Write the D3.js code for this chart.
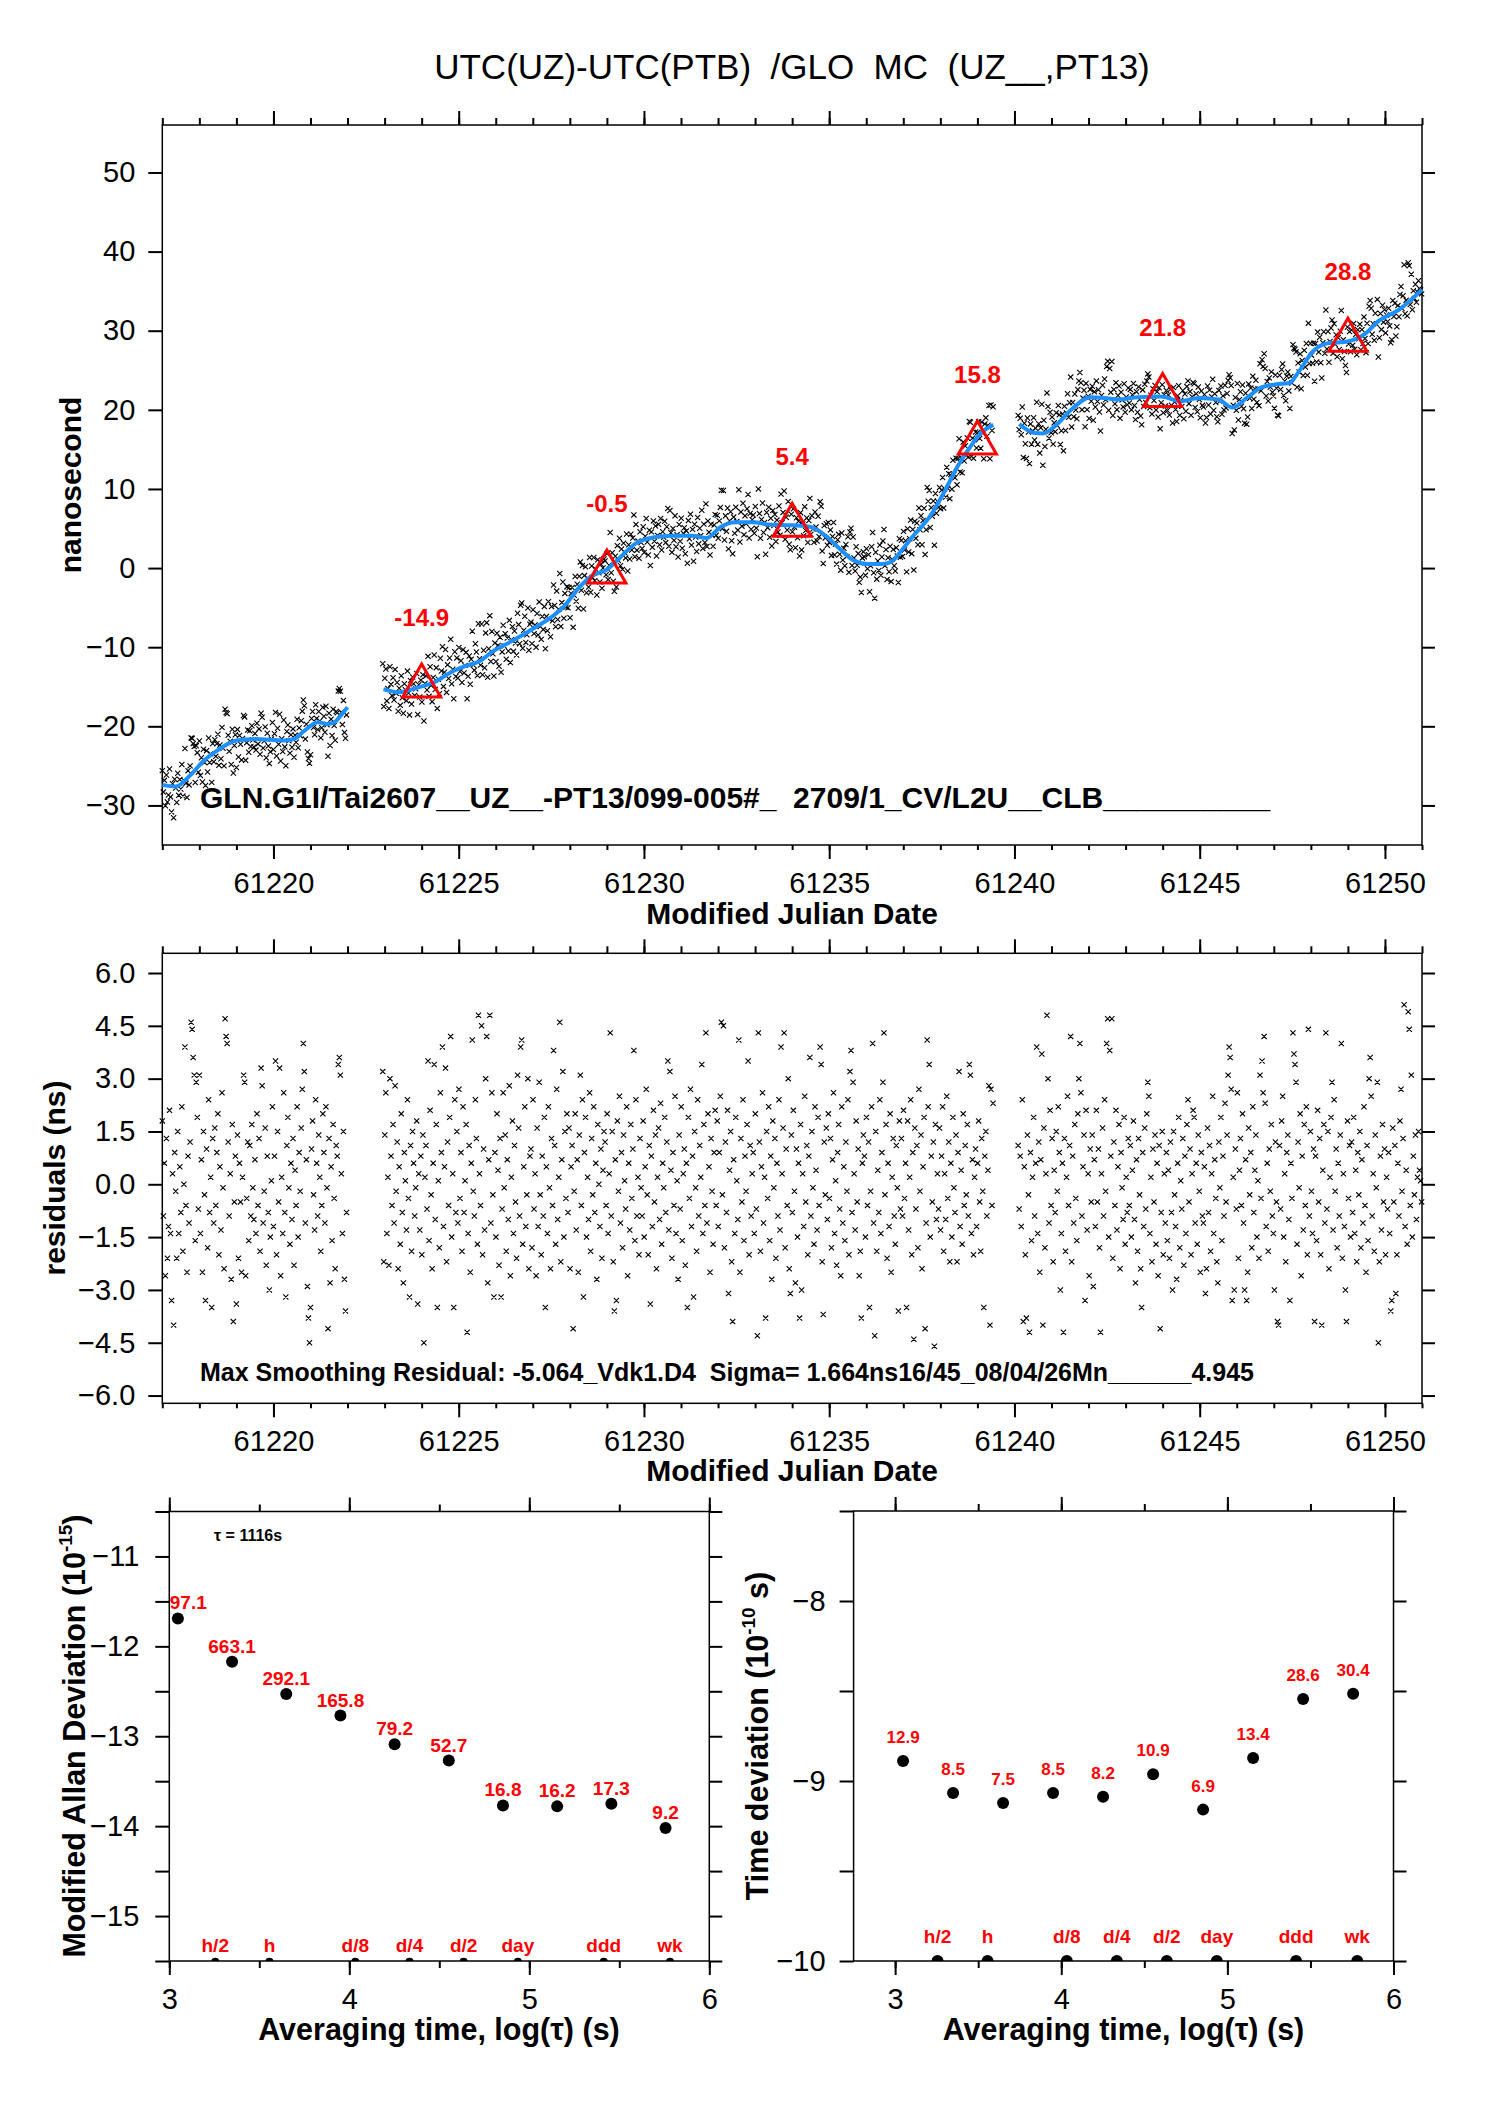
<!DOCTYPE html>
<html>
<head>
<meta charset="utf-8">
<script src="https://cdn.jsdelivr.net/npm/d3@7"></script>
<style>
  body { margin: 0; background: #fff; }
  svg { display: block; font-family: "Liberation Sans", Arial, Helvetica, sans-serif; }
  text { white-space: pre; }
</style>
</head>
<body>
<svg id="chart" width="1488" height="2105"></svg>
<script>
// ---- residuals (tenths of ns), one row per day, sampled every 1/36 day ----
const segStart = [61217.0, 61222.95, 61240.1];
const dayStep = 1 / 36;

const residA = [
  "18 -9 6 -26 13 -21 -12 21 -14 -33 3 -40 9 -2 -21 15 -14 5 -8 22 -19 0 39 -6 -25 8 -11 12 46 44 36 31 -16 29 19 -7",
  "31 -14 7 -25 15 -3 -33 10 -18 24 -8 2 -35 13 -11 16 -6 9 20 -20 5 -13 26 -1 -24 47 42 40 12 -9 3 -27 17 -39 -5 8",
  "-34 14 -21 6 -5 -25 2 31 29 -26 -4 12 -16 11 -9 17 -1 -10 7 -14 20 -6 13 -19 33 28 -11 -2 16 -23 8 -8 -30 -15 1 22",
  "-12 8 35 -20 15 -5 33 -26 2 -14 26 -8 -32 11 19 -1 -17 6 -10 13 -23 4 -6 22 -15 9 -2 16 27 40 32 -11 7 -29 -38 -45",
  "-35 10 18 -3 -13 24 6 -9 14 2 -19 -6 20 9 -11 22 -1 -41 13 -28 5 -16 17 -4 -24 11 8 34 36 31 3 -14 15 -27 -36 -8"
];
const residB = [
  "32 -22 14 26 -14 2 -23 30 8 -6 17 -11 28 -2 12 -24 5 -17 20 -8 -28 9 1 -13 24 -4 -32 11 -19 15 6 -9 -1 18 -34 3",
  "-13 8 -20 14 -45 2 11 -7 35 -16 21 -3 -24 6 34 -10 17 -35 1 -18 26 9 39 -12 5 33 -22 12 -6 19 42 -15 3 -35 24 -8",
  "15 -11 27 -4 9 -19 22 -8 1 17 -42 -14 11 -25 6 41 -2 -9 24 13 -17 48 3 -6 45 -20 10 -13 30 42 -28 7 48 -11 26 -3",
  "-32 9 -15 20 4 -23 13 -32 -7 26 -1 14 -19 7 -10 28 -26 2 18 -14 11 -5 -21 31 16 -9 39 41 -17 5 22 -12 -3 30 -24 8",
  "10 -18 24 -7 3 -26 16 -12 29 -3 -20 8 -9 19 -35 5 -14 22 -1 -24 13 -6 38 11 -17 27 -10 2 46 -22 7 32 -15 15 -4 20",
  "-8 16 -24 5 11 -41 -2 20 -13 7 -25 14 31 -6 24 -32 9 19 -15 2 -10 26 -19 13 -3 22 -8 6 -27 17 0 -12 10 -21 4 15",
  "12 -6 20 -14 3 43 -9 15 -22 -36 7 -33 18 -2 25 -11 9 -18 14 1 -7 22 -26 6 -13 17 -4 10 38 -16 24 -9 2 -20 13 -1",
  "-9 18 -15 5 27 -3 -20 11 -34 8 -12 21 -5 14 -24 2 16 -10 23 -17 6 -1 19 -8 12 35 -13 32 4 -21 9 -6 25 -14 1 -27",
  "14 -7 22 -16 3 10 -23 6 -35 19 -4 27 -12 8 -32 15 -1 -19 24 -9 11 2 34 -14 17 -6 43 -11 20 5 -25 13 -2 -17 9 21",
  "-6 18 -12 9 25 46 -3 45 -18 12 -8 21 -31 4 15 -22 -39 7 -14 19 1 -10 41 -25 13 -5 24 -16 8 -2 17 35 -20 11 -9 3",
  "9 -14 20 -7 -43 43 12 -19 5 26 -11 2 -38 15 -4 22 -16 8 -27 18 -1 13 -21 6 -9 24 -13 39 3 16 43 -18 10 -6 30 -24",
  "-31 14 -8 21 -2 -28 10 -15 6 -38 17 -30 3 -12 25 -5 11 -20 8 36 -9 15 -1 -17 22 4 -13 19 -6 39 34 -22 -37 12 -3 16",
  "-10 20 -4 13 -18 7 26 -14 1 -23 9 17 -7 -26 22 -11 5 -16 12 -2 24 -20 32 38 -8 29 3 -13 18 -5 10 -26 -19 -38 6 14",
  "8 -15 19 -6 12 -35 -2 22 40 -11 -43 15 -19 4 -8 24 -14 9 29 43 -3 17 -21 6 -12 20 -25 2 13 -9 -17 11 -1 -36 18 -7",
  "13 -9 21 -4 6 -35 18 -13 2 24 -20 9 -44 16 -7 11 -18 27 -2 14 -24 5 19 -41 -11 41 22 34 -15 8 -5 12 -46 17 -10 3",
  "-7 16 -13 8 22 -19 3 -10 25 -4 12 -22 6 -15 19 -1 -8 14 -22 9 32 -12 4 -17 20 -6 11 -3 17 -9 34 31 -14 7 -20 2",
  "10 -12 6 18 -5 -19 13 -2 -35 8 15 -9 4 28 -40 27 -6 23"
];
const residC = [
  "11 -7 8 -12 24 -39 5 -20 -38 14 -3 -42 9 -16 2 19 -9 6 39 -14 12 -25 7 37 -40 16 -18 3 48 30 -11 21 -6 13 -22 4",
  "-8 15 -2 22 9 -30 -14 6 -42 13 -19 2 25 -6 11 42 -22 8 -11 17 -4 -16 20 30 40 26 -9 5 14 -33 21 -13 3 -26 10 -5",
  "14 -29 7 -12 21 -5 10 -18 -42 3 16 -9 24 -2 40 47 -15 38 8 47 -21 12 -6 21 -13 5 17 -24 9 -1 -10 19 -17 2 -8 13",
  "-6 11 -15 4 18 -10 -28 7 -19 13 -3 -24 -35 9 -12 16 -7 20 29 25 -14 2 -22 10 -5 14 -17 6 -26 11 -41 -8 15 -20 3 -11",
  "9 -16 4 -21 12 -8 -30 15 -3 -12 -27 6 19 -18 1 -7 13 -23 8 -14 17 24 -5 10 -20 3 21 19 -11 6 -17 14 -2 -25 9 -9",
  "-11 5 -31 -24 16 -8 11 -19 3 25 -14 7 -4 -22 -28 12 -1 19 -16 8 -9 23 -5 14 31 39 36 27 -33 2 -30 10 -7 26 -21 4",
  "13 -6 20 -11 -30 7 -33 -25 16 -3 9 -18 22 -8 4 14 -15 1 -21 31 -4 35 26 42 23 -12 6 -19 10 -2 17 -9 -14 -30 12 -5",
  "-39 -40 11 -7 18 25 -15 3 -22 9 14 -10 -33 6 -4 43 37 34 29 -17 12 -1 20 -26 8 -13 17 -6 22 -20 44 -9 15 -2 -14 10",
  "-39 8 -16 21 -5 13 -20 -40 4 17 -11 43 -7 15 -24 2 19 29 -13 24 -2 10 -18 6 -9 14 40 -21 3 -12 -30 -39 18 -4 11 -15",
  "12 -8 19 -14 4 -22 9 -3 15 -18 7 -11 22 -6 -25 11 -16 30 36 25 -9 3 -19 14 -1 29 -45 -22 8 -13 17 -5 10 -20 2 -7",
  "9 -14 -36 -33 16 -5 11 -31 -20 6 -9 18 27 -2 13 51 -12 4 -17 49 44 -6 31 -15 8 -3 14 -10 2 15 4 1 -5"
];

// ---- smoothing curve (blue), knots ----
const smoothAx = [61217.0, 61217.37, 61217.75, 61218.13, 61218.5, 61219.0, 61219.5, 61220.3, 61220.56, 61220.8, 61221.2, 61221.46, 61221.64, 61221.84, 61222.0];
const smoothAy = [-27.4, -27.6, -26.2, -24.3, -23.0, -21.8, -21.6, -21.8, -21.6, -20.7, -19.5, -19.7, -19.5, -18.5, -17.6];
const smoothBx = [61222.97, 61223.38, 61223.89, 61224.4, 61224.78, 61225.17, 61225.55, 61225.93, 61226.45, 61226.96, 61227.47, 61227.85, 61228.24, 61228.62, 61229.0, 61229.39, 61229.77, 61230.28, 61230.79, 61231.3, 61231.69, 61232.07, 61232.46, 61232.97, 61233.35, 61233.99, 61234.5, 61234.9, 61235.27, 61235.65, 61236.04, 61236.42, 61236.68, 61236.93, 61237.31, 61237.7, 61238.08, 61238.47, 61238.85, 61239.1, 61239.43];
const smoothBy = [-15.3, -15.7, -15.1, -14.3, -13.2, -12.4, -11.8, -10.5, -9.2, -7.8, -6.3, -4.8, -2.5, -0.9, -0.2, 1.5, 3.1, 3.9, 4.1, 4.1, 3.8, 5.2, 5.8, 5.8, 5.5, 5.4, 5.2, 4.1, 2.5, 1.0, 0.5, 0.5, 0.8, 2.1, 4.3, 6.4, 9.4, 12.9, 15.6, 17.1, 18.1];
const smoothCx = [61240.13, 61240.51, 61240.77, 61241.15, 61241.53, 61242.05, 61242.43, 61242.81, 61243.33, 61243.96, 61244.48, 61244.99, 61245.5, 61245.88, 61246.27, 61246.65, 61247.03, 61247.42, 61247.67, 61248.06, 61248.44, 61248.95, 61249.46, 61249.85, 61250.36, 61251.0];
const smoothCy = [18.2, 17.1, 17.0, 18.2, 20.0, 21.6, 21.5, 21.3, 21.6, 21.7, 21.1, 21.5, 21.3, 20.3, 21.5, 22.8, 23.2, 23.4, 24.8, 27.4, 28.4, 28.6, 29.6, 31.3, 32.6, 35.2];

// ---- red triangles ----
const triMjd = [61224, 61229, 61234, 61239, 61244, 61249];
const triVal = [-14.9, -0.5, 5.4, 15.8, 21.8, 28.8];
const triLabel = ["-14.9", "-0.5", "5.4", "15.8", "21.8", "28.8"];

// ---- stability plots ----
const tauSec = [1116, 2232, 4464, 8928, 17856, 35712, 71424, 142848, 285696, 571392];
const adevLog = [-11.69, -12.17, -12.53, -12.77, -13.09, -13.27, -13.77, -13.78, -13.75, -14.02];
const adevLabel = ["97.1", "663.1", "292.1", "165.8", "79.2", "52.7", "16.8", "16.2", "17.3", "9.2"];
const tdevLog = [-8.889, -9.067, -9.122, -9.067, -9.087, -8.963, -9.159, -8.872, -8.544, -8.515];
const tdevLabel = ["12.9", "8.5", "7.5", "8.5", "8.2", "10.9", "6.9", "13.4", "28.6", "30.4"];
const markName = ["h/2", "h", "d/8", "d/4", "d/2", "day", "ddd", "wk"];
const markSec = [1800, 3600, 10800, 21600, 43200, 86400, 259200, 604800];

// ---- tick values ----
const mjdMajor = [61220, 61225, 61230, 61235, 61240, 61245, 61250];
const mjdMinor = d3.range(61217, 61252);
const nsTicks = [-30, -20, -10, 0, 10, 20, 30, 40, 50];
const residTicks = [-6, -4.5, -3, -1.5, 0, 1.5, 3, 4.5, 6];
const logMajor = [3, 4, 5, 6];
const logMinor = [3, 3.5, 4, 4.5, 5, 5.5, 6];
const adevTicks = [-15.5, -15, -14.5, -14, -13.5, -13, -12.5, -12, -11.5, -11, -10.5];
const tdevTicks = [-10, -9.5, -9, -8.5, -8, -7.5];

const svg = d3.select("#chart");
const RED = "#ff0000", BLUE = "#1e8fff";

// scales
const xTop = d3.scaleLinear().domain([61217, 61251]).range([162.3, 1422]);
const yTop = d3.scaleLinear().domain([-35, 56]).range([845, 125]);
const yMid = d3.scaleLinear().domain([-6.22, 6.56]).range([1403.3, 953.3]);
const xBL = d3.scaleLinear().domain([3, 6]).range([169.3, 709.3]);
const yBL = d3.scaleLinear().domain([-15.5, -10.5]).range([1961, 1511.5]);
const xBR = d3.scaleLinear().domain([2.75, 6]).range([853.6, 1393.5]);
const yBR = d3.scaleLinear().domain([-10, -7.5]).range([1961, 1511]);

function drawAxes(x, y, o) {
  const g = svg.append("g");
  const [xl, xr] = x.range(), [yb, yt] = y.range();
  const style = sel => {
    sel.select(".domain").remove();
    sel.attr("font-family", null).attr("font-size", 29);
    sel.selectAll(".tick line").attr("stroke-width", 2);
    sel.selectAll(".tick text").attr("fill", "#000");
  };
  g.append("g").attr("transform", `translate(0,${yb})`)
    .call(d3.axisBottom(x).tickValues(o.xMinor).tickSize(o.minorB).tickFormat("")).call(style);
  g.append("g").attr("transform", `translate(0,${yb})`)
    .call(d3.axisBottom(x).tickValues(o.xMajor).tickSize(14).tickPadding(13).tickFormat(d3.format("d"))).call(style);
  g.append("g").attr("transform", `translate(0,${yt})`)
    .call(d3.axisTop(x).tickValues(o.xMinor).tickSize(7).tickFormat("")).call(style);
  g.append("g").attr("transform", `translate(0,${yt})`)
    .call(d3.axisTop(x).tickValues(o.xMajor).tickSize(14).tickFormat("")).call(style);
  g.append("g").attr("transform", `translate(${xl},0)`)
    .call(d3.axisLeft(y).tickValues(o.yTicks).tickSize(14).tickPadding(o.yPad).tickFormat(o.yFmt)).call(style);
  g.append("g").attr("transform", `translate(${xr},0)`)
    .call(d3.axisRight(y).tickValues(o.yTicks).tickSize(13).tickFormat("")).call(style);
  g.append("rect").attr("x", xl).attr("y", yt).attr("width", xr - xl).attr("height", yb - yt)
    .attr("fill", "none").attr("stroke", "#000").attr("stroke-width", 1.5);
}

function label(x, y, txt, o = {}) {
  return svg.append("text").attr("x", x).attr("y", y).attr("text-anchor", o.anchor || "middle")
    .attr("font-size", o.size || 30).attr("font-weight", o.bold ? "bold" : null)
    .attr("fill", o.fill || "#000").text(txt);
}

function vlabel(bx, cy, parts, size) {
  const t = svg.append("text").attr("transform", `translate(${bx},${cy}) rotate(-90)`)
    .attr("text-anchor", "middle").attr("font-size", size).attr("font-weight", "bold");
  parts.forEach(p => {
    const s = t.append("tspan").text(p.t);
    if (p.sup) s.attr("font-size", size * 0.62).attr("dy", -size * 0.42);
    if (p.down) s.attr("dy", size * 0.42);
  });
  return t;
}

// ---- build points ----
const smoothX = [smoothAx, smoothBx, smoothCx], smoothY = [smoothAy, smoothBy, smoothCy];
const pts = [];
[residA, residB, residC].forEach((rows, s) => {
  const vals = rows.join(" ").trim().split(/\s+/).map(Number);
  const sm = d3.scaleLinear().domain(smoothX[s]).range(smoothY[s]).clamp(true);
  vals.forEach((v, i) => {
    const t = segStart[s] + i * dayStep;
    pts.push({ t, r: v / 10, raw: sm(t) + v / 10 });
  });
});

const cross = (cx, cy, k) => `M${cx - k},${cy - k}L${cx + k},${cy + k}M${cx - k},${cy + k}L${cx + k},${cy - k}`;

// ---- title ----
label(792, 79, "UTC(UZ)-UTC(PTB)  /GLO  MC  (UZ__,PT13)", { size: 35 });

// ---- top panel ----
drawAxes(xTop, yTop, { xMinor: mjdMinor, xMajor: mjdMajor, minorB: 5, yTicks: nsTicks, yPad: 13, yFmt: d3.format("d") });
svg.append("path").attr("fill", "none").attr("stroke", "#000").attr("stroke-width", 1.1)
  .attr("d", pts.map(p => cross(xTop(p.t), yTop(p.raw), 2.6)).join(""));
const line = d3.line().x(d => xTop(d[0])).y(d => yTop(d[1])).curve(d3.curveMonotoneX);
smoothX.forEach((xs, s) => {
  svg.append("path").attr("fill", "none").attr("stroke", BLUE).attr("stroke-width", 4)
    .attr("d", line(xs.map((v, i) => [v, smoothY[s][i]])));
});
triMjd.forEach((m, i) => {
  const cx = xTop(m), cy = yTop(triVal[i]);
  svg.append("path").attr("d", "M0,-22L19,11L-19,11Z").attr("transform", `translate(${cx},${cy})`)
    .attr("fill", "none").attr("stroke", RED).attr("stroke-width", 3);
  label(cx, cy - 60, triLabel[i], { size: 24, bold: true, fill: RED });
});
label(200, 808, "GLN.G1I/Tai2607__UZ__-PT13/099-005#_  2709/1_CV/L2U__CLB__________", { anchor: "start", size: 30, bold: true });
label(792, 924, "Modified Julian Date", { bold: true });
vlabel(81, 485, [{ t: "nanosecond" }], 30);

// ---- residual panel ----
drawAxes(xTop, yMid, { xMinor: mjdMinor, xMajor: mjdMajor, minorB: 5, yTicks: residTicks, yPad: 13, yFmt: d3.format(".1f") });
svg.append("path").attr("fill", "none").attr("stroke", "#000").attr("stroke-width", 1.1)
  .attr("d", pts.map(p => cross(xTop(p.t), yMid(p.r), 2.6)).join(""));
label(200, 1381, "Max Smoothing Residual: -5.064_Vdk1.D4  Sigma= 1.664ns16/45_08/04/26Mn______4.945", { anchor: "start", size: 25, bold: true });
label(792, 1481, "Modified Julian Date", { bold: true });
vlabel(65, 1178, [{ t: "residuals (ns)" }], 30);

// ---- stability panels ----
const intFmt = d => Number.isInteger(d) ? d3.format("d")(d) : "";
function stabPanel(x, y, ticks, vals, labs, o) {
  drawAxes(x, y, { xMinor: logMinor, xMajor: logMajor, minorB: 7, yTicks: ticks, yPad: o.yPad, yFmt: intFmt });
  const [xl, xr] = x.range(), [yb, yt] = y.range();
  const id = "clip" + o.id;
  svg.append("clipPath").attr("id", id).append("rect")
    .attr("x", xl).attr("y", yt).attr("width", xr - xl).attr("height", yb - yt);
  const g = svg.append("g");
  tauSec.forEach((t, i) => {
    const cx = x(Math.log10(t)), cy = y(vals[i]);
    g.append("circle").attr("cx", cx).attr("cy", cy).attr("r", 6).attr("fill", "#000");
    const lx = Math.max(cx, xl + (o.clampL || 0));
    label(lx, cy - o.labOff, labs[i], { size: o.labSize, bold: true, fill: RED });
  });
  const gm = svg.append("g").attr("clip-path", `url(#${id})`);
  markSec.forEach((t, i) => {
    const cx = x(Math.log10(t));
    gm.append("circle").attr("cx", cx).attr("cy", yb + o.dotDrop).attr("r", o.dotR).attr("fill", "#000");
    label(cx, yb - o.markOff, markName[i], { size: 19, bold: true, fill: RED });
  });
}
stabPanel(xBL, yBL, adevTicks, adevLog, adevLabel,
  { id: "L", yPad: 16, labOff: 9, labSize: 19, clampL: 19, dotR: 4, dotDrop: 0.7, markOff: 9 });
stabPanel(xBR, yBR, tdevTicks, tdevLog, tdevLabel,
  { id: "R", yPad: 14, labOff: 18, labSize: 17, dotR: 6, dotDrop: 0, markOff: 18 });

label(214, 1541, "\u03c4 = 1116s", { anchor: "start", size: 16, bold: true });
label(439, 2040, "Averaging time, log(\u03c4) (s)", { bold: true, size: 30.5 });
label(1123.5, 2040, "Averaging time, log(\u03c4) (s)", { bold: true, size: 30.5 });
vlabel(85, 1736, [{ t: "Modified Allan Deviation (10" }, { t: "-15", sup: true }, { t: ")", down: true }], 30.5);
vlabel(768, 1736, [{ t: "Time deviation (10" }, { t: "-10", sup: true }, { t: " s)", down: true }], 30.5);
</script>
</body>
</html>
